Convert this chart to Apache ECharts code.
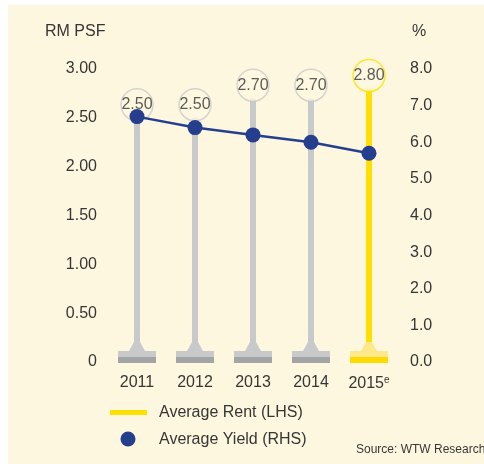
<!DOCTYPE html>
<html>
<head>
<meta charset="utf-8">
<script src="https://cdn.jsdelivr.net/npm/echarts@6/dist/echarts.min.js"></script>
<style>
  html, body { margin: 0; padding: 0; background: #ffffff; }
  #chart { width: 484px; height: 464px; }
</style>
</head>
<body>
<div id="chart"></div>
<script>
// chart data
var years = ['2011', '2012', '2013', '2014', '2015'];
var rentValues = [2.5, 2.5, 2.7, 2.7, 2.8];   // RM psf (LHS)
var yieldValues = [6.7, 6.4, 6.2, 6.0, 5.7];  // % (RHS)
var estimateIndex = 4;                        // 2015 is the estimate

var FONT = "'Liberation Sans', Arial, sans-serif";
var TXT = '#363636';
var GREY = '#c8c9cb', GREY_DARK = '#a3a4a6';
var YEL = '#ffe000', YEL_LIGHT = '#fde98a', YEL_DARK = '#ffd900';
var BLUE = '#253f8e';
var CREAM = '#fdf7df';

var chart = echarts.init(document.getElementById('chart'));

var option = {
  animation: false,
  backgroundColor: '#ffffff',
  textStyle: { fontFamily: FONT },
  grid: { left: 108, right: 86, top: 69, bottom: 102 },
  graphic: [
    { type: 'rect', z: -10, shape: { x: 8, y: 5, width: 476, height: 459 }, style: { fill: CREAM } },
    { type: 'text', left: 45, top: 24, style: { text: 'RM PSF', fill: TXT, font: '16px ' + FONT } },
    { type: 'text', left: 412, top: 24, style: { text: '%', fill: TXT, font: '16px ' + FONT } },
    // legend
    { type: 'rect', shape: { x: 110, y: 410, width: 37, height: 5 }, style: { fill: YEL } },
    { type: 'text', left: 159, top: 405, style: { text: 'Average Rent (LHS)', fill: TXT, font: '16px ' + FONT } },
    { type: 'circle', shape: { cx: 128, cy: 439, r: 7.5 }, style: { fill: BLUE } },
    { type: 'text', left: 159, top: 432, style: { text: 'Average Yield (RHS)', fill: TXT, font: '16px ' + FONT } },
    { type: 'text', left: 356, top: 444, style: { text: 'Source: WTW Research', fill: TXT, font: '12px ' + FONT } }
  ],
  xAxis: {
    type: 'category',
    data: years,
    axisLine: { show: false },
    axisTick: { show: false },
    axisLabel: {
      interval: 0,
      color: TXT, fontSize: 16, margin: 13, fontFamily: FONT,
      formatter: function (v, i) { return i === estimateIndex ? v + '{sup|e}' : v; },
      rich: { sup: { fontSize: 10, verticalAlign: 'top', padding: [0, 0, 8, 0], color: TXT, fontFamily: FONT } }
    }
  },
  yAxis: [
    {
      type: 'value', min: 0, max: 3, interval: 0.5,
      axisLine: { show: false }, axisTick: { show: false }, splitLine: { show: false },
      axisLabel: {
        color: TXT, fontSize: 16, margin: 11, fontFamily: FONT,
        formatter: function (v) { return v === 0 ? '0' : v.toFixed(2); }
      }
    },
    {
      type: 'value', min: 0, max: 8, interval: 1,
      axisLine: { show: false }, axisTick: { show: false }, splitLine: { show: false },
      axisLabel: {
        color: TXT, fontSize: 16, margin: 12, fontFamily: FONT,
        formatter: function (v) { return v.toFixed(1); }
      }
    }
  ],
  series: [
    {
      name: 'Average Rent (LHS)',
      type: 'bar',
      barWidth: 6,
      z: 2,
      data: rentValues.map(function (v, i) {
        return { value: v, itemStyle: { color: i === estimateIndex ? YEL : GREY } };
      })
    },
    {
      // pedestal at the foot of each stem
      type: 'custom',
      z: 3,
      silent: true,
      data: rentValues.map(function (v, i) { return [i, 0]; }),
      renderItem: function (params, api) {
        var p = api.coord([api.value(0), 0]);
        var x = Math.round(p[0]), y = Math.round(p[1]);
        var est = params.dataIndex === estimateIndex;
        var light = est ? YEL_LIGHT : GREY;
        var dark = est ? YEL_DARK : GREY_DARK;
        return {
          type: 'group',
          children: [
            { type: 'polygon', shape: { points: [[x - 3, y - 20], [x + 3, y - 20], [x + 8, y - 11], [x - 8, y - 11]] }, style: { fill: light } },
            { type: 'rect', shape: { x: x - 19, y: y - 11, width: 38, height: 6 }, style: { fill: light } },
            { type: 'rect', shape: { x: x - 19, y: y - 5, width: 38, height: 6 }, style: { fill: dark } }
          ]
        };
      }
    },
    {
      // value bubbles on top of the stems
      type: 'scatter',
      z: 4,
      symbol: 'circle',
      symbolSize: 32,
      symbolOffset: [0, -13],
      data: rentValues.map(function (v, i) {
        return {
          value: v,
          itemStyle: { color: CREAM, borderColor: i === estimateIndex ? YEL : '#cbcbcb', borderWidth: 1.5 }
        };
      }),
      label: {
        show: true, position: 'inside',
        color: '#333', fontSize: 16, fontFamily: FONT,
        formatter: function (p) { return p.value.toFixed(2); }
      }
    },
    {
      name: 'Average Yield (RHS)',
      type: 'line',
      yAxisIndex: 1,
      z: 6,
      symbol: 'circle',
      symbolSize: 15,
      data: yieldValues,
      lineStyle: { color: BLUE, width: 2.5 },
      itemStyle: { color: BLUE }
    }
  ]
};

chart.setOption(option);
</script>
</body>
</html>
